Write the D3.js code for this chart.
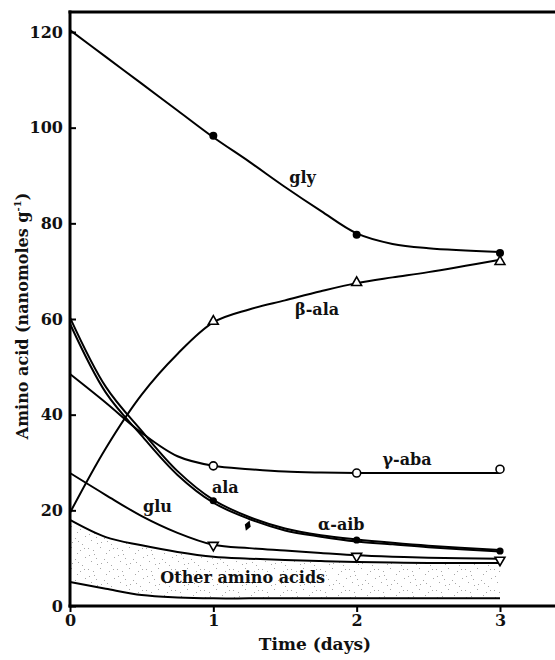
<!DOCTYPE html>
<html>
<head>
<meta charset="utf-8">
<script src="https://cdn.jsdelivr.net/npm/d3@7"></script>
<style>
  body { margin: 0; background: #fff; }
  svg { display: block; }
  text { font-family: "DejaVu Serif", "Liberation Serif", serif; font-weight: bold; fill: #111; }
</style>
</head>
<body>
<script>
// Sampling times (days) for the fitted curves
const days = [0, 0.25, 0.5, 0.75, 1, 1.25, 1.5, 1.75, 2, 2.25, 2.5, 3];

// Fitted curves, nanomoles per gram
const glyCurve      = [120.4, 114.8, 109.2, 103.6, 98.0, 92.9, 87.6, 82.6, 77.9, 75.7, 74.8, 74.0];
const betaAlaCurve  = [19.5, 33.0, 44.2, 52.7, 59.3, 62.0, 63.9, 65.8, 67.5, 68.7, 69.8, 72.4];
const gammaAbaCurve = [48.5, 42.5, 36.2, 31.3, 29.3, 28.6, 28.1, 27.9, 27.8, 27.8, 27.8, 27.8];
const alaCurve      = [60.3, 45.8, 36.6, 28.2, 22.2, 18.6, 16.2, 14.8, 13.9, 13.2, 12.6, 11.7];
const alphaAibCurve = [59.0, 44.6, 35.6, 27.4, 21.6, 18.2, 15.8, 14.5, 13.5, 12.9, 12.3, 11.4];
const gluCurve      = [27.8, 23.2, 18.8, 15.3, 12.8, 12.1, 11.6, 11.1, 10.6, 10.3, 10.1, 9.9];
const otherTop      = [18.0, 14.4, 12.7, 11.3, 10.3, 9.9, 9.6, 9.4, 9.2, 9.1, 9.0, 9.0];
const otherBottom   = [5.0, 3.6, 2.3, 1.8, 1.6, 1.6, 1.6, 1.6, 1.6, 1.6, 1.6, 1.6];

// Measured points
const pointDays = [1, 2, 3];
const glyPoints = [98.3, 77.6, 73.8];
const betaAlaPoints = [59.5, 67.6, 72.0];
const gammaAbaPoints = [29.3, 27.8, 28.6];
const alaPoints = [22.0, 13.8, 11.5];
const gluPoints = [12.7, 10.4, 9.6];
const aibPointDays = [1.24];
const aibPoints = [16.8];

const xTicks = [0, 1, 2, 3];
const yTicks = [0, 20, 40, 60, 80, 100, 120];

const W = 555, H = 660;
const svg = d3.select("body").append("svg").attr("width", W).attr("height", H);

const x = d3.scaleLinear().domain([0, 3]).range([70, 500]);
const y = d3.scaleLinear().domain([0, 120]).range([606, 32]);

// Stipple fill for the "other amino acids" band
const defs = svg.append("defs");
const pat = defs.append("pattern").attr("id", "stipple")
  .attr("patternUnits", "userSpaceOnUse").attr("width", 29).attr("height", 21);
const dots = [[1,2],[7,8],[13,1],[22,4],[27,11],[4,15],[10,18],[17,13],[24,19],[19,7],
              [2,9],[14,17],[26,2],[9,12],[20,16],[6,4]];
pat.selectAll("rect").data(dots).join("rect")
  .attr("x", d => d[0]).attr("y", d => d[1]).attr("width", 1).attr("height", 1)
  .attr("fill", "#a8a8a8");

const rows = arr => days.map((t, i) => ({ t, v: arr[i] }));
const smooth = d3.curveCatmullRom.alpha(0.5);

svg.append("path")
  .datum(days.map((t, i) => ({ t, hi: otherTop[i], lo: otherBottom[i] })))
  .attr("fill", "url(#stipple)")
  .attr("d", d3.area().x(d => x(d.t)).y0(d => y(d.lo)).y1(d => y(d.hi)).curve(smooth));

const line = d3.line().x(d => x(d.t)).y(d => y(d.v)).curve(smooth);
const curves = [glyCurve, betaAlaCurve, gammaAbaCurve, alaCurve, alphaAibCurve, gluCurve, otherTop, otherBottom];
svg.append("g").selectAll("path").data(curves).join("path")
  .attr("fill", "none").attr("stroke", "#000").attr("stroke-width", 2)
  .attr("stroke-linejoin", "round")
  .attr("d", c => line(rows(c)));

// Axes frame
const ax = svg.append("g").attr("stroke", "#000");
ax.append("line").attr("x1", x(0)).attr("x2", x(0)).attr("y1", 10.5).attr("y2", y(0) + 1.5).attr("stroke-width", 3);
ax.append("line").attr("x1", x(0) - 1.5).attr("x2", W).attr("y1", 12).attr("y2", 12).attr("stroke-width", 3);
ax.append("line").attr("x1", x(0) - 1.5).attr("x2", W).attr("y1", y(0)).attr("y2", y(0)).attr("stroke-width", 3);

const yAxis = svg.append("g").attr("transform", `translate(${x(0)},0)`)
  .call(d3.axisLeft(y).tickValues(yTicks).tickSize(-6).tickPadding(7));
const xAxis = svg.append("g").attr("transform", `translate(0,${y(0)})`)
  .call(d3.axisBottom(x).tickValues(xTicks).tickSize(6).tickPadding(3).tickFormat(d3.format("d")));
[yAxis, xAxis].forEach(g => {
  g.select(".domain").remove();
  g.selectAll(".tick line").attr("stroke", "#000").attr("stroke-width", 2);
  g.selectAll(".tick text").attr("font-family", "DejaVu Serif").attr("font-weight", "bold")
    .attr("font-size", 16).attr("fill", "#111");
});

// Markers
const mk = svg.append("g");
const sym = (type, size) => d3.symbol().type(type).size(size)();
function points(ts, vs, draw) {
  ts.forEach((t, i) => draw(mk, x(t), y(vs[i])));
}
points(pointDays, glyPoints, (g, cx, cy) => g.append("circle").attr("cx", cx).attr("cy", cy).attr("r", 4).attr("fill", "#000"));
points(pointDays, alaPoints, (g, cx, cy) => g.append("circle").attr("cx", cx).attr("cy", cy).attr("r", 3.6).attr("fill", "#000"));
points(pointDays, gammaAbaPoints, (g, cx, cy) => g.append("circle").attr("cx", cx).attr("cy", cy).attr("r", 4)
  .attr("fill", "#fff").attr("stroke", "#000").attr("stroke-width", 1.6));
points(pointDays, betaAlaPoints, (g, cx, cy) => g.append("path").attr("d", sym(d3.symbolTriangle, 42))
  .attr("transform", `translate(${cx},${cy})`).attr("fill", "#fff").attr("stroke", "#000").attr("stroke-width", 1.6));
points(pointDays, gluPoints, (g, cx, cy) => g.append("path").attr("d", sym(d3.symbolTriangle, 42))
  .attr("transform", `translate(${cx},${cy}) rotate(180)`).attr("fill", "#fff").attr("stroke", "#000").attr("stroke-width", 1.6));
points(aibPointDays, aibPoints, (g, cx, cy) => g.append("path").attr("d", sym(d3.symbolDiamond, 34))
  .attr("transform", `translate(${cx},${cy}) rotate(20)`).attr("fill", "#000"));

// Curve labels
const labels = [
  { text: "gly", t: 1.53, v: 88.5 },
  { text: "β-ala", t: 1.57, v: 60.8 },
  { text: "γ-aba", t: 2.18, v: 29.5 },
  { text: "ala", t: 0.99, v: 23.6 },
  { text: "α-aib", t: 1.73, v: 15.8 },
  { text: "glu", t: 0.51, v: 19.6 },
];
svg.append("g").selectAll("text").data(labels).join("text")
  .attr("x", d => x(d.t)).attr("y", d => y(d.v))
  .attr("font-size", 16).text(d => d.text);

svg.append("text").attr("x", x(0.63)).attr("y", y(4.8)).attr("font-size", 16).text("Other amino acids");

// Axis titles
svg.append("text").attr("x", 315).attr("y", 650).attr("text-anchor", "middle")
  .attr("font-size", 17).text("Time (days)");

const yt = svg.append("text").attr("transform", "translate(28,316) rotate(-90)")
  .attr("text-anchor", "middle").attr("font-size", 16);
yt.append("tspan").text("Amino acid (nanomoles g");
yt.append("tspan").attr("font-size", 10).attr("dy", -7).text("-1");
yt.append("tspan").attr("dy", 7).text(")");
</script>
</body>
</html>
